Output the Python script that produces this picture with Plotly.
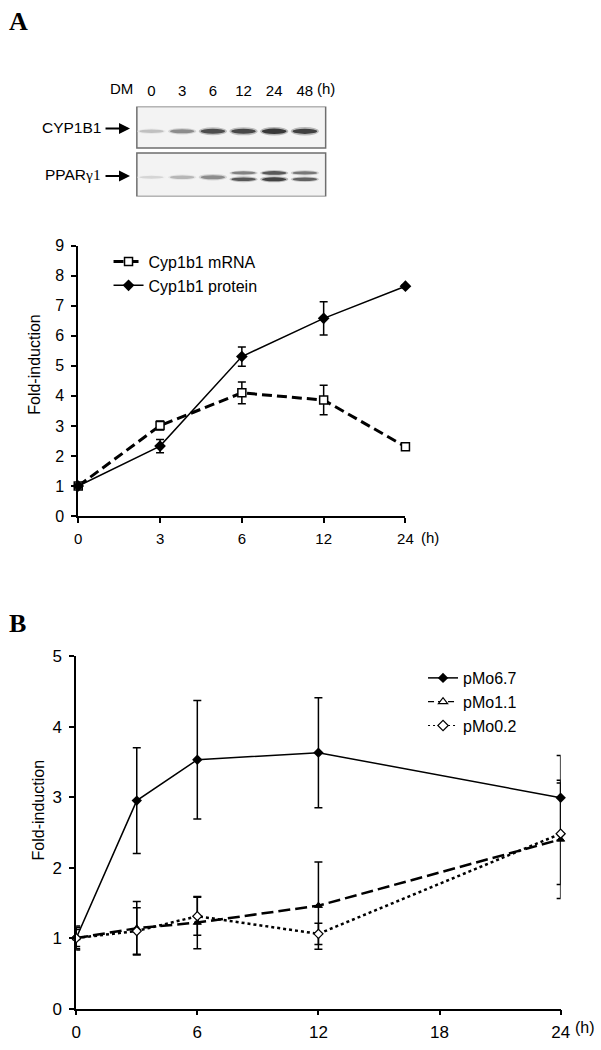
import plotly.graph_objects as go

W, H = 601, 1050

# ---------------- Panel A data ----------------
a_time_labels = ["0", "3", "6", "12", "24"]
a_mrna = [1.0, 3.01, 4.10, 3.86, 2.31]
a_mrna_err = [0.06, 0.15, 0.36, 0.49, 0.10]
a_protein = [1.0, 2.33, 5.31, 6.58, 7.65]
a_protein_err = [0.05, 0.22, 0.32, 0.55, 0.05]

# ---------------- Panel B data ----------------
b_time = [0, 3, 6, 12, 24]
b_tick_vals = [0, 6, 12, 18, 24]
b_pmo67 = [1.0, 2.95, 3.53, 3.63, 2.99]
b_pmo67_err = [0.15, 0.75, 0.84, 0.78, 0.60]
b_pmo11 = [1.0, 1.14, 1.22, 1.46, 2.40]
b_pmo11_err = [0.17, 0.38, 0.37, 0.62, 0.84]
b_pmo02 = [1.0, 1.10, 1.31, 1.06, 2.48]
b_pmo02_err = [0.12, 0.33, 0.27, 0.15, 0.72]

# ---------------- Western blot (band darkness 0..1) ----------------
blot_lanes = ["0", "3", "6", "12", "24", "48"]
cyp_band = [0.3, 0.55, 0.85, 0.88, 0.95, 0.92]
ppar_upper = [0.0, 0.0, 0.0, 0.6, 0.8, 0.65]
ppar_lower = [0.2, 0.35, 0.55, 0.8, 0.9, 0.75]

FONT = "Liberation Sans, Arial, sans-serif"
SERIF = "Liberation Serif, Times New Roman, serif"

fig = go.Figure()

a_x = list(range(len(a_time_labels)))


def err(arr, w=4):
    return dict(type="data", array=arr, visible=True, color="black", thickness=1.5, width=w)


fig.add_trace(go.Scatter(
    x=a_x, y=a_mrna, name="Cyp1b1 mRNA", mode="lines+markers", cliponaxis=False,
    line=dict(color="black", width=3, dash="10px,5px"),
    marker=dict(symbol="square", size=8, color="white", line=dict(color="black", width=1.5)),
    error_y=err(a_mrna_err), legend="legend", xaxis="x", yaxis="y"))
fig.add_trace(go.Scatter(
    x=a_x, y=a_protein, name="Cyp1b1 protein", mode="lines+markers", cliponaxis=False,
    line=dict(color="black", width=1.5),
    marker=dict(symbol="diamond", size=9, color="black"),
    error_y=err(a_protein_err), legend="legend", xaxis="x", yaxis="y"))

fig.add_trace(go.Scatter(
    x=b_time, y=b_pmo67, name="pMo6.7", mode="lines+markers", cliponaxis=False,
    line=dict(color="black", width=1.5),
    marker=dict(symbol="diamond", size=8, color="black"),
    error_y=err(b_pmo67_err), legend="legend2", legendrank=1, xaxis="x2", yaxis="y2"))
fig.add_trace(go.Scatter(
    x=b_time, y=b_pmo11, name="pMo1.1", mode="lines+markers", cliponaxis=False,
    line=dict(color="black", width=2.5, dash="12px,5px"),
    marker=dict(symbol="triangle-up", size=7, color="black", line=dict(color="black", width=1)),
    error_y=err(b_pmo11_err), legendgroup="pmo11", showlegend=False,
    xaxis="x2", yaxis="y2"))
fig.add_trace(go.Scatter(
    x=b_time, y=b_pmo02, name="pMo0.2", mode="lines+markers", cliponaxis=False,
    line=dict(color="black", width=2.5, dash="3px,3px"),
    marker=dict(symbol="diamond", size=7, color="white", line=dict(color="black", width=1.2)),
    error_y=err(b_pmo02_err), legendgroup="pmo02", showlegend=False,
    xaxis="x2", yaxis="y2"))
# legend entries for panel B dashed series (thin sample lines, open symbols as in the key)
fig.add_trace(go.Scatter(
    x=[None], y=[None], name="pMo1.1", mode="lines+markers", legendgroup="pmo11",
    line=dict(color="black", width=1.2, dash="6px,4px"),
    marker=dict(symbol="triangle-up", size=8, color="white", line=dict(color="black", width=1.2)),
    legend="legend2", legendrank=2, xaxis="x2", yaxis="y2"))
fig.add_trace(go.Scatter(
    x=[None], y=[None], name="pMo0.2", mode="lines+markers", legendgroup="pmo02",
    line=dict(color="black", width=1.2, dash="2px,3px"),
    marker=dict(symbol="diamond", size=8, color="white", line=dict(color="black", width=1.2)),
    legend="legend2", legendrank=3, xaxis="x2", yaxis="y2"))

# blot helper axis trace (invisible)
lane_x = list(range(len(blot_lanes)))
fig.add_trace(go.Scatter(x=lane_x, y=[0.5] * len(lane_x), mode="markers",
                         marker=dict(opacity=0), showlegend=False, hoverinfo="skip",
                         xaxis="x3", yaxis="y3"))

BLOT_PX = 91.7  # pixel height of one unit on the blot y axis
shapes = []
box_col = "#6e6e6e"
shapes.append(dict(type="rect", xref="x3 domain", yref="y3", x0=0, x1=1, y0=0.538, y1=1.0,
                   line=dict(color=box_col, width=1.5), fillcolor="#f3f3f3"))
shapes.append(dict(type="rect", xref="x3 domain", yref="y3", x0=0, x1=1, y0=0.0, y1=0.483,
                   line=dict(color=box_col, width=1.5), fillcolor="#f3f3f3"))


def gray(level):
    g = int(round(255 * level))
    return f"rgb({g},{g},{g})"


def band(lane, yc, v, scale=1.0):
    if v <= 0:
        return
    hh = (1.2 + 1.6 * v) * scale / BLOT_PX
    shapes.append(dict(type="circle", xref="x3", yref="y3", x0=lane - 0.46, x1=lane + 0.46,
                       y0=yc - hh * 1.6, y1=yc + hh * 1.6, line=dict(width=0),
                       fillcolor=gray(1 - 0.3 * v)))
    shapes.append(dict(type="circle", xref="x3", yref="y3", x0=lane - 0.40, x1=lane + 0.40,
                       y0=yc - hh, y1=yc + hh, line=dict(width=0),
                       fillcolor=gray(1 - 0.82 * v)))


for i in lane_x:
    band(i, 0.725, cyp_band[i])
    if ppar_upper[i] > 0:
        band(i, 0.262, ppar_upper[i], scale=0.75)
        band(i, 0.192, ppar_lower[i], scale=0.75)
    else:
        band(i, 0.215, ppar_lower[i])

axis_common = dict(showline=True, linecolor="black", linewidth=1.6, ticks="outside",
                   ticklen=5, tickwidth=1.6, tickcolor="black", showgrid=False,
                   zeroline=False, fixedrange=True)

fig.update_layout(
    width=W, height=H,
    margin=dict(l=0, r=0, t=0, b=0),
    paper_bgcolor="white", plot_bgcolor="white",
    font=dict(family=FONT, color="black", size=15),
    xaxis=dict(domain=[75 / W, 410 / W], range=[0, len(a_x) - 1], tickvals=a_x,
               ticktext=a_time_labels, anchor="y", tickfont=dict(size=15),
               ticklabelstandoff=3, **axis_common),
    yaxis=dict(domain=[1 - 516.4 / H, 1 - 241 / H], range=[0, 9], dtick=1, anchor="x",
               tickfont=dict(size=16), ticklabelstandoff=4, **axis_common),
    xaxis2=dict(domain=[72.9 / W, 568.9 / W], range=[0, 24], tickvals=b_tick_vals,
                ticktext=[str(v) for v in b_tick_vals], anchor="y2",
                tickfont=dict(size=17), ticklabelstandoff=2, **axis_common),
    yaxis2=dict(domain=[1 - 1018 / H, 1 - 659 / H], range=[0, 5], dtick=1, anchor="x2",
                tickfont=dict(size=17), ticklabelstandoff=4, **axis_common),
    xaxis3=dict(domain=[135 / W, 328.3 / W], range=[-0.478, 5.678], anchor="y3", side="top",
                tickvals=lane_x, ticktext=blot_lanes, showline=False, showgrid=False,
                zeroline=False, ticks="", tickfont=dict(size=15), ticklabelstandoff=7,
                fixedrange=True),
    yaxis3=dict(domain=[1 - 191 / H, 1 - 99.3 / H], range=[0, 1], visible=False,
                anchor="x3", fixedrange=True),
    legend=dict(x=106 / W, y=1 - 240 / H, xanchor="left", yanchor="top",
                font=dict(size=16, family=FONT), bgcolor="rgba(0,0,0,0)", borderwidth=0,
                tracegroupgap=0),
    legend2=dict(x=428 / W, y=1 - 664 / H, xanchor="left", yanchor="top",
                 font=dict(size=16, family=FONT), bgcolor="rgba(0,0,0,0)", borderwidth=0,
                 tracegroupgap=0, traceorder="normal"),
    shapes=shapes,
)

ann = []
ann.append(dict(text="<b>A</b>", x=2 / W, y=1 - 13 / H, xref="paper", yref="paper",
                xanchor="left", yanchor="middle", showarrow=False,
                font=dict(family=SERIF, size=26)))
ann.append(dict(text="<b>B</b>", x=2 / W, y=1 - 626 / H, xref="paper", yref="paper",
                xanchor="left", yanchor="middle", showarrow=False,
                font=dict(family=SERIF, size=26)))
ann.append(dict(text="DM", x=119 / W, y=1 - 81 / H, xref="paper", yref="paper",
                xanchor="center", yanchor="middle", showarrow=False, font=dict(size=15)))
ann.append(dict(text="(h)", x=328.5 / W, y=1 - 81 / H, xref="paper", yref="paper",
                xanchor="center", yanchor="middle", showarrow=False, font=dict(size=15)))
ann.append(dict(text="CYP1B1", x=100 / W, y=1 - 120.5 / H, xref="paper", yref="paper",
                xanchor="right", yanchor="middle", showarrow=False, font=dict(size=15.5)))
ann.append(dict(text="PPAR<span style='font-family:Liberation Serif'>γ1</span>",
                x=100 / W, y=1 - 169 / H, xref="paper", yref="paper",
                xanchor="right", yanchor="middle", showarrow=False, font=dict(size=15.5)))
for yy in (121.7, 170):
    ann.append(dict(text="", x=128 / W, y=1 - yy / H, xref="paper", yref="paper",
                    ax=-26, ay=0, showarrow=True, arrowhead=2, arrowsize=1.1,
                    arrowwidth=2, arrowcolor="black", standoff=0, startstandoff=0))
ann.append(dict(text="Fold-induction", x=30 / W, y=1 - 362 / H, xref="paper", yref="paper",
                xanchor="center", yanchor="middle", textangle=-90, showarrow=False,
                font=dict(size=16)))
ann.append(dict(text="Fold-induction", x=34 / W, y=1 - 816 / H, xref="paper", yref="paper",
                xanchor="center", yanchor="middle", textangle=-90, showarrow=False,
                font=dict(size=16)))
ann.append(dict(text="(h)", x=424 / W, y=1 - 538 / H, xref="paper", yref="paper",
                xanchor="left", yanchor="middle", showarrow=False, font=dict(size=15)))
ann.append(dict(text="(h)", x=582 / W, y=1 - 1037 / H, xref="paper", yref="paper",
                xanchor="left", yanchor="middle", showarrow=False, font=dict(size=16)))
fig.update_layout(annotations=ann)

fig.write_html("out.html", config={"displayModeBar": False},
               post_script="document.body.style.margin='0px';")
